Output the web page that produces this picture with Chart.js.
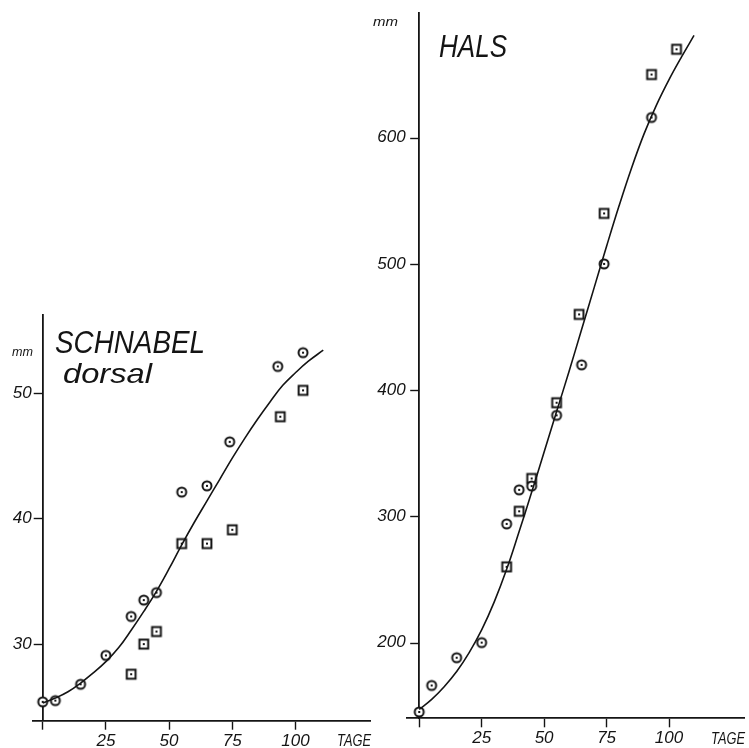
<!DOCTYPE html>
<html lang="de">
<head>
<meta charset="UTF-8">
<title>Schnabel dorsal / Hals</title>
<script src="https://cdn.jsdelivr.net/npm/chart.js"></script>
<style>
    html, body { margin: 0; padding: 0; background: #fff; }
    #wrap { position: relative; width: 749px; height: 748px; overflow: hidden; }
    canvas { position: absolute; }
    #schnabel { left: 0; top: 300px; }
    #hals { left: 365px; top: 0; }
</style>
</head>
<body>
<div id="wrap">
    <canvas id="schnabel" width="375" height="448"></canvas>
    <canvas id="hals" width="384" height="748"></canvas>
</div>
<script>
// ---- data ----
const xTickValues = [0, 25, 50, 75, 100];
const xTickLabels = ['', '25', '50', '75', '100'];

// SCHNABEL dorsal
const schnabelTicks = [30, 40, 50];
const schnabelCircleDays = [0, 5, 15, 25, 35, 40, 45, 55, 65, 74, 93, 103];
const schnabelCircleMm   = [25.4, 25.5, 26.8, 29.1, 32.2, 33.5, 34.1, 42.1, 42.6, 46.1, 52.1, 53.2];
const schnabelSquareDays = [35, 40, 45, 55, 65, 75, 94, 103];
const schnabelSquareMm   = [27.6, 30.0, 31.0, 38.0, 38.0, 39.1, 48.1, 50.2];
const schnabelCurveDays  = [0, 5, 10, 15, 20, 25, 30, 35, 40, 45, 50, 55, 60, 65, 70, 75, 80, 85, 90, 95, 100, 105, 111];
const schnabelCurveMm    = [25.3, 25.7, 26.2, 26.9, 27.7, 28.6, 29.7, 31.1, 32.6, 34.2, 36.0, 37.9, 39.7, 41.4, 43.1, 44.8, 46.4, 47.9, 49.3, 50.6, 51.6, 52.5, 53.4];

// HALS
const halsTicks = [200, 300, 400, 500, 600];
const halsCircleDays = [0, 5, 15, 25, 35, 40, 45, 55, 65, 74, 93];
const halsCircleMm   = [145, 166, 188, 200, 294, 321, 324, 380, 420, 500, 616];
const halsSquareDays = [35, 40, 45, 55, 64, 74, 93, 103];
const halsSquareMm   = [260, 304, 330, 390, 460, 540, 650, 670];
const halsCurveDays  = [0, 5, 10, 15, 20, 25, 30, 35, 40, 45, 50, 55, 60, 65, 70, 75, 80, 85, 90, 95, 100, 105, 110];
const halsCurveMm    = [147, 155, 165, 177, 192, 210, 232, 258, 288, 319, 351, 383, 415, 448, 481, 514, 546, 576, 603, 626, 646, 664, 681];

const INK = '#141414';
const FONT = "'Liberation Sans', Arial, sans-serif";

function pts(xs, ys) {
    return xs.map((x, i) => ({ x: x, y: ys[i] }));
}

// open circle / square with a dot in the middle
function marker(kind) {
    const c = document.createElement('canvas');
    c.width = 14; c.height = 14;
    const g = c.getContext('2d');
    g.strokeStyle = INK;
    g.fillStyle = '#fff';
    g.lineWidth = 2;
    g.beginPath();
    if (kind === 'circle') g.arc(7, 7, 4.5, 0, Math.PI * 2);
    else g.rect(2.6, 2.6, 8.8, 8.8);
    g.fill();
    g.stroke();
    g.fillStyle = INK;
    g.fillRect(6, 6, 2, 2);
    return c;
}
const circleImg = marker('circle');
const squareImg = marker('square');

// text squeezed to a given width
function drawFit(ctx, text, x, y, size, width) {
    ctx.save();
    ctx.font = 'italic ' + size + 'px ' + FONT;
    const w = ctx.measureText(text).width;
    ctx.translate(x, y);
    ctx.scale(width / w, 1);
    ctx.fillStyle = INK;
    ctx.textBaseline = 'alphabetic';
    ctx.fillText(text, 0, 0);
    ctx.restore();
}

function makeChart(id, cfg) {
    const labelsPlugin = {
        id: 'labels',
        afterDraw(chart) {
            const ctx = chart.ctx;
            // small tick marks to the left of the y axis line
            const xs = chart.scales.x, ys = chart.scales.y;
            const ax = xs.getPixelForValue(0);
            ctx.save();
            ctx.strokeStyle = INK;
            ctx.lineWidth = 1.4;
            cfg.yTicks.forEach(v => {
                const py = Math.round(ys.getPixelForValue(v)) + 0.5;
                ctx.beginPath();
                ctx.moveTo(ax - cfg.yTickLen, py);
                ctx.lineTo(ax, py);
                ctx.stroke();
            });
            ctx.restore();
            cfg.texts.forEach(t => drawFit(ctx, t[0], t[1], t[2], t[3], t[4]));
            const a = chart.chartArea;
            drawFit(ctx, 'TAGE', a.right - 33, cfg.tageY, 17, 34);
        }
    };
    const tickFont = { family: FONT, size: 17, style: 'italic' };
    return new Chart(document.getElementById(id), {
        type: 'scatter',
        data: {
            datasets: [
                {
                    data: pts(cfg.curveX, cfg.curveY),
                    showLine: true,
                    borderColor: INK,
                    borderWidth: 1.6,
                    pointRadius: 0,
                    tension: 0.4
                },
                {
                    data: pts(cfg.circX, cfg.circY),
                    pointStyle: circleImg
                },
                {
                    data: pts(cfg.sqX, cfg.sqY),
                    pointStyle: squareImg
                }
            ]
        },
        options: {
            responsive: false,
            animation: false,
            layout: { padding: cfg.padding },
            plugins: { legend: { display: false }, tooltip: { enabled: false } },
            scales: {
                x: {
                    type: 'linear',
                    min: cfg.xMin,
                    max: cfg.xMax,
                    afterBuildTicks: s => { s.ticks = xTickValues.map(v => ({ value: v })); },
                    afterFit: s => { s.height = cfg.xAxisHeight; },
                    ticks: {
                        callback: (v, i) => xTickLabels[i],
                        color: INK,
                        font: tickFont,
                        padding: 1,
                        maxRotation: 0,
                        autoSkip: false
                    },
                    grid: { drawOnChartArea: false, tickLength: 9, tickColor: INK, tickWidth: 1.4 },
                    border: { display: true, color: INK, width: 1.7 }
                },
                // the axis line itself, standing at day 0
                y: {
                    type: 'linear',
                    position: { x: 0 },
                    min: cfg.yMin,
                    max: cfg.yMax,
                    afterBuildTicks: s => { s.ticks = cfg.yTicks.map(v => ({ value: v })); },
                    ticks: { display: false },
                    grid: { display: false },
                    border: { display: true, color: INK, width: 1.8 }
                },
                // labels only, right-aligned just left of the tick marks
                yLabels: {
                    type: 'linear',
                    position: 'left',
                    min: cfg.yMin,
                    max: cfg.yMax,
                    afterBuildTicks: s => { s.ticks = cfg.yTicks.map(v => ({ value: v })); },
                    afterFit: s => { s.width = cfg.yLabelWidth; },
                    ticks: { color: INK, font: tickFont, padding: cfg.yLabelPad },
                    grid: { display: false, drawTicks: false, tickLength: 0 },
                    border: { display: false }
                }
            }
        },
        plugins: [labelsPlugin]
    });
}

makeChart('schnabel', {
    curveX: schnabelCurveDays, curveY: schnabelCurveMm,
    circX: schnabelCircleDays, circY: schnabelCircleMm,
    sqX: schnabelSquareDays, sqY: schnabelSquareMm,
    yTicks: schnabelTicks,
    xMin: -4, xMax: 129.5, yMin: 23.9, yMax: 56.2,
    padding: { left: 0, right: 5, top: 15, bottom: 0 },
    yLabelWidth: 32.6,
    yLabelPad: 1,
    yTickLen: 9,
    xAxisHeight: 27.3,
    tageY: 446,
    texts: [
        ['mm', 12, 56, 13, 21],
        ['SCHNABEL', 55, 52.7, 31, 150],
        ['dorsal', 63, 83, 28, 89]
    ]
});

makeChart('hals', {
    curveX: halsCurveDays, curveY: halsCurveMm,
    circX: halsCircleDays, circY: halsCircleMm,
    sqX: halsSquareDays, sqY: halsSquareMm,
    yTicks: halsTicks,
    xMin: -5, xMax: 130, yMin: 140, yMax: 699,
    padding: { left: 0, right: 2, top: 12.7, bottom: 0 },
    yLabelWidth: 41.7,
    yLabelPad: 1,
    yTickLen: 9,
    xAxisHeight: 29.7,
    tageY: 744,
    texts: [
        ['mm', 8, 26, 13, 25],
        ['HALS', 74, 56.7, 32, 68]
    ]
});
</script>
</body>
</html>
